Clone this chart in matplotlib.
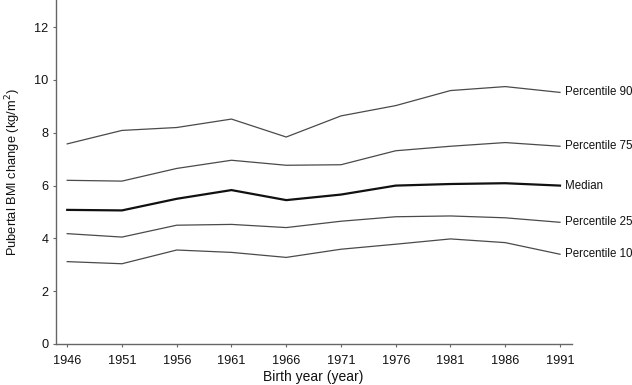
import matplotlib
matplotlib.use("Agg")
import matplotlib.pyplot as plt

plt.rcParams['font.family'] = ['Liberation Sans', 'DejaVu Sans']

years = [1946, 1951, 1956, 1961, 1966, 1971, 1976, 1981, 1986, 1991]
p90 = [7.58, 8.09, 8.20, 8.52, 7.84, 8.64, 9.03, 9.60, 9.75, 9.53]
p75 = [6.20, 6.17, 6.65, 6.96, 6.77, 6.79, 7.32, 7.49, 7.63, 7.49]
median = [5.08, 5.06, 5.50, 5.83, 5.45, 5.66, 6.00, 6.06, 6.09, 6.00]
p25 = [4.18, 4.05, 4.50, 4.53, 4.41, 4.65, 4.82, 4.85, 4.78, 4.61]
p10 = [3.12, 3.04, 3.56, 3.47, 3.28, 3.59, 3.78, 3.98, 3.84, 3.40]

series = [
    ("Percentile 90", p90),
    ("Percentile 75", p75),
    ("Median", median),
    ("Percentile 25", p25),
    ("Percentile 10", p10),
]
yticks = [0, 2, 4, 6, 8, 10, 12]

fig = plt.figure(figsize=(6.32, 3.85), dpi=100)
ax = fig.add_axes([55.5/632, 41/385, (571.7-55.5)/632, 344/385])

for name, vals in series:
    if name == "Median":
        ax.plot(years, vals, color="#111111", lw=1.6)
    else:
        ax.plot(years, vals, color="#4a4a4a", lw=0.9)
    ax.annotate(name, xy=(years[-1], vals[-1]), xytext=(3.5, 0),
                textcoords="offset points", va="center", ha="left",
                fontsize=8.3, color="#111111", annotation_clip=False)

ax.set_xlim(1944.93, 1992.07)
ax.set_ylim(0, 13.03)
ax.set_xticks(years)
ax.set_yticks(yticks)
ax.tick_params(axis='both', labelsize=9.2, length=2.5, width=0.8,
               color="#666666", labelcolor="#111111")
ax.tick_params(axis='x', pad=5.5)
ax.tick_params(axis='y', pad=2.5)
for s in ["top", "right"]:
    ax.spines[s].set_visible(False)
for s in ["left", "bottom"]:
    ax.spines[s].set_color("#666666")
    ax.spines[s].set_linewidth(1.0)

ax.set_xlabel("Birth year (year)", fontsize=10, color="#111111", labelpad=2)
ax.set_ylabel("Pubertal BMI change (kg/m$^{2}$)", fontsize=9.3, color="#111111", labelpad=8)

fig.savefig("out.png", dpi=100)
